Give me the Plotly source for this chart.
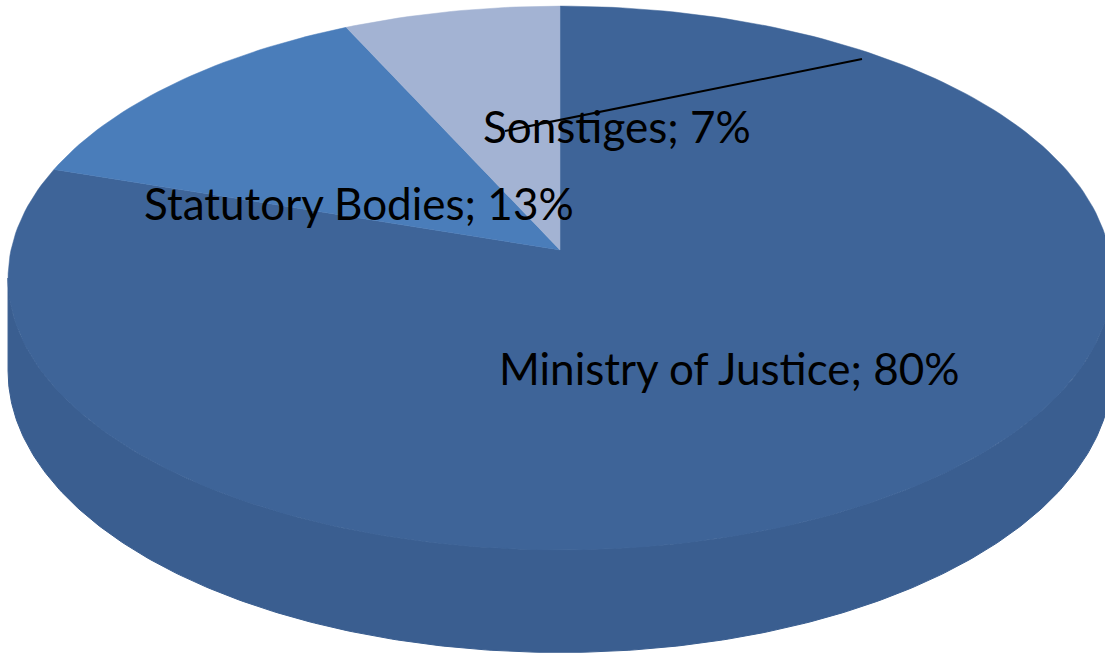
import numpy as np
import plotly.graph_objects as go

# ---- data ----
labels = ["Ministry of Justice", "Statutory Bodies", "Sonstiges"]
values = [80, 13, 7]
top_colors = ["#3E6498", "#4A7DBA", "#A3B3D3"]
side_color = "#3A5E90"

# ---- 3D pie geometry (layout constants) ----
W, Hh = 1105, 654
CX, CY = 560.0, 250.0      # projected pie centre (vertex)
SX, SY = 549.0, 269.0      # horizontal / vertical scale
K = 0.103                  # perspective factor
DEPTH = 92.0               # side thickness


def proj(phi, drop=0.0):
    u, v = np.sin(phi), np.cos(phi)
    d = 1.0 + K * v
    return CX + SX * u / d, CY - SY * v / d + DEPTH * drop / d


fig = go.Figure()

# side band (front visible part)
phi_r = np.arccos(-K)
phi_l = 2 * np.pi - phi_r
ph = np.linspace(phi_r, phi_l, 300)
xt, yt = proj(ph, 0)
xb, yb = proj(ph[::-1], 1)
fig.add_trace(go.Scatter(x=np.r_[xt, xb], y=np.r_[yt, yb], fill="toself",
                         mode="lines", line=dict(width=1, color=side_color),
                         fillcolor=side_color, hoverinfo="skip", showlegend=False))

# top face slices
total = sum(values)
start = 0.0
for lab, val, col in zip(labels, values, top_colors):
    a0 = start
    a1 = start + 2 * np.pi * val / total
    ph = np.linspace(a0, a1, max(int(300 * val / total), 20))
    xs, ys = proj(ph, 0)
    fig.add_trace(go.Scatter(x=np.r_[CX, xs, CX], y=np.r_[CY, ys, CY], fill="toself",
                             mode="lines", line=dict(width=0.5, color=col),
                             fillcolor=col, name=lab, hoverinfo="name", showlegend=False))
    start = a1

font = dict(family="Lato, Carlito, Calibri, sans-serif", size=44, color="black")
pct = [f"{v}%" for v in values]
fig.add_annotation(x=729, y=368, text=f"{labels[0]}; {pct[0]}", showarrow=False, font=font)
fig.add_annotation(x=359, y=203, text=f"{labels[1]}; {pct[1]}", showarrow=False, font=font)
fig.add_annotation(x=617, y=126, text=f"{labels[2]}; {pct[2]}", showarrow=False, font=font)
fig.add_shape(type="line", x0=505, y0=131, x1=862, y1=59,
              line=dict(color="black", width=2))

fig.update_layout(width=W, height=Hh, margin=dict(l=0, r=0, t=0, b=0),
                  paper_bgcolor="white", plot_bgcolor="white",
                  xaxis=dict(range=[0, W], visible=False, fixedrange=True),
                  yaxis=dict(range=[Hh, 0], visible=False, fixedrange=True))
fig.write_html("out.html", config={"displayModeBar": False},
               post_script="document.body.style.margin='0';document.body.style.overflow='hidden';")
